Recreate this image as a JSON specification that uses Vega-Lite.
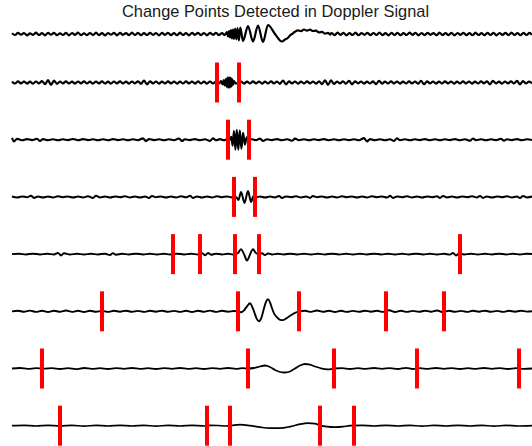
{
"$schema":"https://vega.github.io/schema/vega-lite/v6.json",
"padding":{"left":7,"right":0,"top":4,"bottom":0},
"bounds":"flush",
"spacing":8.5,
"title":{"text":"Change Points Detected in Doppler Signal","fontSize":16.4,"font":"Liberation Sans","fontWeight":"normal","color":"#1a1a1a","offset":-6.5,"anchor":"middle","dx":3.5},
"data":{"values":[
{"r":1,"x":12,"y":0.8},{"r":1,"x":15,"y":-1.0},{"r":1,"x":18,"y":1.2},{"r":1,"x":21,"y":-0.7},{"r":1,"x":24,"y":1.0},{"r":1,"x":27,"y":-1.3},{"r":1,"x":30,"y":0.6},{"r":1,"x":33,"y":-0.9},{"r":1,"x":36,"y":1.3},{"r":1,"x":39,"y":-1.0},{"r":1,"x":42,"y":0.8},{"r":1,"x":45,"y":-1.4},{"r":1,"x":48,"y":1.1},{"r":1,"x":51,"y":-0.7},{"r":1,"x":54,"y":1.2},{"r":1,"x":57,"y":-1.2},{"r":1,"x":60,"y":0.7},{"r":1,"x":63,"y":-1.0},{"r":1,"x":66,"y":1.1},{"r":1,"x":69,"y":-1.3},{"r":1,"x":72,"y":1.0},{"r":1,"x":75,"y":-0.8},{"r":1,"x":78,"y":1.4},{"r":1,"x":81,"y":-1.1},{"r":1,"x":84,"y":0.7},{"r":1,"x":87,"y":-1.2},{"r":1,"x":90,"y":1.0},{"r":1,"x":93,"y":-1.0},{"r":1,"x":96,"y":1.3},{"r":1,"x":99,"y":-1.1},{"r":1,"x":102,"y":0.8},{"r":1,"x":105,"y":-1.4},{"r":1,"x":108,"y":1.0},{"r":1,"x":111,"y":-0.7},{"r":1,"x":114,"y":1.2},{"r":1,"x":117,"y":-1.3},{"r":1,"x":120,"y":1.1},{"r":1,"x":123,"y":-0.8},{"r":1,"x":126,"y":0.9},{"r":1,"x":129,"y":-1.1},{"r":1,"x":132,"y":1.3},{"r":1,"x":135,"y":-1.0},{"r":1,"x":138,"y":1.1},{"r":1,"x":141,"y":-1.2},{"r":1,"x":144,"y":0.8},{"r":1,"x":147,"y":-1.0},{"r":1,"x":150,"y":1.2},{"r":1,"x":153,"y":-0.9},{"r":1,"x":156,"y":1.0},{"r":1,"x":159,"y":-1.3},{"r":1,"x":162,"y":1.1},{"r":1,"x":165,"y":-0.8},{"r":1,"x":168,"y":1.2},{"r":1,"x":171,"y":-1.1},{"r":1,"x":174,"y":0.9},{"r":1,"x":177,"y":-1.2},{"r":1,"x":180,"y":1.3},{"r":1,"x":183,"y":-1.0},{"r":1,"x":186,"y":0.8},{"r":1,"x":189,"y":-1.3},{"r":1,"x":192,"y":1.1},{"r":1,"x":195,"y":-0.9},{"r":1,"x":198,"y":1.2},{"r":1,"x":201,"y":-1.1},{"r":1,"x":204,"y":1.0},{"r":1,"x":207,"y":-1.3},{"r":1,"x":210,"y":1.2},{"r":1,"x":213,"y":-0.9},{"r":1,"x":216,"y":1.1},{"r":1,"x":219,"y":-1.2},{"r":1,"x":222,"y":1.0},{"r":1,"x":224.5,"y":-1.1},
{"r":1,"x":226,"y":0.5},{"r":1,"x":227,"y":2},{"r":1,"x":228,"y":-2.5},{"r":1,"x":229,"y":3},{"r":1,"x":230,"y":-3.5},{"r":1,"x":231,"y":4},{"r":1,"x":232,"y":-4.5},{"r":1,"x":233,"y":4.5},{"r":1,"x":234,"y":-5},{"r":1,"x":235.2,"y":5.5},{"r":1,"x":236.4,"y":-5.5},{"r":1,"x":237.6,"y":6},{"r":1,"x":238.9,"y":-6.5},{"r":1,"x":240.3,"y":6.5},{"r":1,"x":243,"y":-7},{"r":1,"x":248,"y":8},{"r":1,"x":253,"y":-7.5},{"r":1,"x":258,"y":8.5},{"r":1,"x":263,"y":-8},{"r":1,"x":268,"y":9},{"r":1,"x":275,"y":0},{"r":1,"x":282,"y":-7.5},{"r":1,"x":285,"y":-5.5},{"r":1,"x":288,"y":-3.8},{"r":1,"x":290,"y":-1.5},{"r":1,"x":292,"y":0},{"r":1,"x":295,"y":2.2},{"r":1,"x":298,"y":3.6},{"r":1,"x":301,"y":2.8},{"r":1,"x":304,"y":4.5},{"r":1,"x":307,"y":3.3},{"r":1,"x":310,"y":4.4},{"r":1,"x":313,"y":3.0},{"r":1,"x":316,"y":3.3},{"r":1,"x":319,"y":1.6},{"r":1,"x":322,"y":2.2},{"r":1,"x":325,"y":0.4},{"r":1,"x":328,"y":1.2},{"r":1,"x":330,"y":-0.6},
{"r":1,"x":331.5,"y":1.0},{"r":1,"x":334.5,"y":-1.2},{"r":1,"x":337.5,"y":1.3},{"r":1,"x":340.5,"y":-0.8},{"r":1,"x":343.5,"y":1.1},{"r":1,"x":346.5,"y":-1.3},{"r":1,"x":349.5,"y":0.8},{"r":1,"x":352.5,"y":-1.0},{"r":1,"x":355.5,"y":1.3},{"r":1,"x":358.5,"y":-1.2},{"r":1,"x":361.5,"y":0.9},{"r":1,"x":364.5,"y":-0.8},{"r":1,"x":367.5,"y":1.2},{"r":1,"x":370.5,"y":-1.2},{"r":1,"x":373.5,"y":1.0},{"r":1,"x":376.5,"y":-0.9},{"r":1,"x":379.5,"y":1.4},{"r":1,"x":382.5,"y":-1.1},{"r":1,"x":385.5,"y":0.8},{"r":1,"x":388.5,"y":-1.3},{"r":1,"x":391.5,"y":1.1},{"r":1,"x":394.5,"y":-1.0},{"r":1,"x":397.5,"y":1.2},{"r":1,"x":400.5,"y":-1.2},{"r":1,"x":403.5,"y":0.8},{"r":1,"x":406.5,"y":-1.0},{"r":1,"x":409.5,"y":1.3},{"r":1,"x":412.5,"y":-0.9},{"r":1,"x":415.5,"y":1.1},{"r":1,"x":418.5,"y":-1.3},{"r":1,"x":421.5,"y":1.0},{"r":1,"x":424.5,"y":-1.1},{"r":1,"x":427.5,"y":1.2},{"r":1,"x":430.5,"y":-0.8},{"r":1,"x":433.5,"y":0.9},{"r":1,"x":436.5,"y":-1.2},{"r":1,"x":439.5,"y":1.3},{"r":1,"x":442.5,"y":-1.0},{"r":1,"x":445.5,"y":0.8},{"r":1,"x":448.5,"y":-1.1},{"r":1,"x":451.5,"y":1.1},{"r":1,"x":454.5,"y":-1.3},{"r":1,"x":457.5,"y":1.0},{"r":1,"x":460.5,"y":-0.8},{"r":1,"x":463.5,"y":1.2},{"r":1,"x":466.5,"y":-1.1},{"r":1,"x":469.5,"y":0.9},{"r":1,"x":472.5,"y":-1.2},{"r":1,"x":475.5,"y":1.3},{"r":1,"x":478.5,"y":-1.0},{"r":1,"x":481.5,"y":0.8},{"r":1,"x":484.5,"y":-1.2},{"r":1,"x":487.5,"y":1.1},{"r":1,"x":490.5,"y":-1.0},{"r":1,"x":493.5,"y":1.2},{"r":1,"x":496.5,"y":-1.3},{"r":1,"x":499.5,"y":1.0},{"r":1,"x":502.5,"y":-0.8},{"r":1,"x":505.5,"y":1.1},{"r":1,"x":508.5,"y":-1.1},{"r":1,"x":511.5,"y":1.3},{"r":1,"x":514.5,"y":-1.0},{"r":1,"x":517.5,"y":0.9},{"r":1,"x":520.5,"y":-1.2},{"r":1,"x":523.5,"y":1.1},{"r":1,"x":526.5,"y":-1.0},{"r":1,"x":529.5,"y":1.2},{"r":1,"x":532,"y":-0.8},

{"r":2,"x":12,"y":0.9},{"r":2,"x":15,"y":-1.0},{"r":2,"x":18,"y":1.1},{"r":2,"x":21,"y":-0.9},{"r":2,"x":24,"y":1.0},{"r":2,"x":27,"y":-1.1},{"r":2,"x":30,"y":0.9},{"r":2,"x":33,"y":-1.2},{"r":2,"x":36,"y":1.0},{"r":2,"x":39,"y":-0.9},{"r":2,"x":42,"y":1.3},{"r":2,"x":45,"y":-1.6},{"r":2,"x":48,"y":2.3},{"r":2,"x":51,"y":-2.4},{"r":2,"x":54,"y":1.8},{"r":2,"x":57,"y":-1.3},{"r":2,"x":60,"y":1.0},{"r":2,"x":63,"y":-0.9},{"r":2,"x":66,"y":1.1},{"r":2,"x":69,"y":-1.0},{"r":2,"x":72,"y":0.9},{"r":2,"x":75,"y":-1.1},{"r":2,"x":78,"y":1.0},{"r":2,"x":81,"y":-0.8},{"r":2,"x":84,"y":1.1},{"r":2,"x":87,"y":-1.0},{"r":2,"x":90,"y":0.9},{"r":2,"x":93,"y":-1.2},{"r":2,"x":96,"y":1.0},{"r":2,"x":99,"y":-0.9},{"r":2,"x":102,"y":1.1},{"r":2,"x":105,"y":-1.0},{"r":2,"x":108,"y":0.8},{"r":2,"x":111,"y":-1.1},{"r":2,"x":114,"y":1.0},{"r":2,"x":117,"y":-0.9},{"r":2,"x":120,"y":1.1},{"r":2,"x":123,"y":-1.0},{"r":2,"x":126,"y":0.9},{"r":2,"x":129,"y":-1.1},{"r":2,"x":132,"y":1.0},{"r":2,"x":135,"y":-0.9},{"r":2,"x":138,"y":1.2},{"r":2,"x":141,"y":-1.3},{"r":2,"x":144,"y":2.0},{"r":2,"x":147,"y":-1.8},{"r":2,"x":150,"y":1.1},{"r":2,"x":153,"y":-0.9},{"r":2,"x":156,"y":1.0},{"r":2,"x":159,"y":-1.1},{"r":2,"x":162,"y":0.9},{"r":2,"x":165,"y":-1.0},{"r":2,"x":168,"y":1.1},{"r":2,"x":171,"y":-0.9},{"r":2,"x":174,"y":1.0},{"r":2,"x":177,"y":-1.1},{"r":2,"x":180,"y":0.9},{"r":2,"x":183,"y":-1.0},{"r":2,"x":186,"y":1.1},{"r":2,"x":189,"y":-0.9},{"r":2,"x":192,"y":1.0},{"r":2,"x":195,"y":-1.2},{"r":2,"x":198,"y":1.1},{"r":2,"x":201,"y":-1.0},{"r":2,"x":204,"y":0.9},{"r":2,"x":207,"y":-1.1},{"r":2,"x":210,"y":1.0},{"r":2,"x":213,"y":-0.9},{"r":2,"x":216,"y":1.0},
{"r":2,"x":219,"y":-1.0},{"r":2,"x":221,"y":1.3},{"r":2,"x":222.5,"y":-1.8},{"r":2,"x":223.7,"y":2.3},{"r":2,"x":224.8,"y":-3},{"r":2,"x":225.8,"y":3.5},{"r":2,"x":226.7,"y":-4.2},{"r":2,"x":227.5,"y":4.8},{"r":2,"x":228.3,"y":-5.2},{"r":2,"x":229.1,"y":5.2},{"r":2,"x":229.9,"y":-5},{"r":2,"x":230.7,"y":4.6},{"r":2,"x":231.5,"y":-4},{"r":2,"x":232.3,"y":3.2},{"r":2,"x":233.1,"y":-2.2},{"r":2,"x":234,"y":1.4},{"r":2,"x":235.5,"y":-0.8},
{"r":2,"x":238,"y":-0.9},{"r":2,"x":241,"y":1.0},{"r":2,"x":244,"y":-1.1},{"r":2,"x":247,"y":0.9},{"r":2,"x":250,"y":-1.0},{"r":2,"x":253,"y":1.1},{"r":2,"x":256,"y":-0.9},{"r":2,"x":259,"y":1.0},{"r":2,"x":262,"y":-1.1},{"r":2,"x":265,"y":0.9},{"r":2,"x":268,"y":-1.0},{"r":2,"x":271,"y":1.1},{"r":2,"x":274,"y":-0.9},{"r":2,"x":277,"y":1.0},{"r":2,"x":280,"y":-1.3},{"r":2,"x":283,"y":1.9},{"r":2,"x":286,"y":-1.8},{"r":2,"x":289,"y":1.1},{"r":2,"x":292,"y":-0.9},{"r":2,"x":295,"y":1.0},{"r":2,"x":298,"y":-1.1},{"r":2,"x":301,"y":0.9},{"r":2,"x":304,"y":-1.0},{"r":2,"x":307,"y":1.1},{"r":2,"x":310,"y":-0.9},{"r":2,"x":313,"y":1.0},{"r":2,"x":316,"y":-1.1},{"r":2,"x":319,"y":1.2},{"r":2,"x":322,"y":-1.6},{"r":2,"x":325,"y":2.2},{"r":2,"x":328,"y":-2.3},{"r":2,"x":331,"y":2.1},{"r":2,"x":334,"y":-1.5},{"r":2,"x":337,"y":1.0},{"r":2,"x":340,"y":-0.9},{"r":2,"x":343,"y":1.1},{"r":2,"x":346,"y":-1.2},{"r":2,"x":349,"y":1.7},{"r":2,"x":352,"y":-1.8},{"r":2,"x":355,"y":1.2},{"r":2,"x":358,"y":-0.9},{"r":2,"x":361,"y":1.0},{"r":2,"x":364,"y":-1.1},{"r":2,"x":367,"y":0.9},{"r":2,"x":370,"y":-1.0},{"r":2,"x":373,"y":1.1},{"r":2,"x":376,"y":-1.6},{"r":2,"x":379,"y":1.7},{"r":2,"x":382,"y":-1.1},{"r":2,"x":385,"y":0.9},{"r":2,"x":388,"y":-1.0},{"r":2,"x":391,"y":1.1},{"r":2,"x":394,"y":-0.9},{"r":2,"x":397,"y":1.0},{"r":2,"x":400,"y":-1.1},{"r":2,"x":403,"y":0.9},{"r":2,"x":406,"y":-1.0},{"r":2,"x":409,"y":1.1},{"r":2,"x":412,"y":-0.9},{"r":2,"x":415,"y":1.0},{"r":2,"x":418,"y":-1.2},{"r":2,"x":421,"y":1.6},{"r":2,"x":424,"y":-1.7},{"r":2,"x":427,"y":1.1},{"r":2,"x":430,"y":-0.9},{"r":2,"x":433,"y":1.0},{"r":2,"x":436,"y":-1.1},{"r":2,"x":439,"y":0.9},{"r":2,"x":442,"y":-1.0},{"r":2,"x":445,"y":1.1},{"r":2,"x":448,"y":-0.9},{"r":2,"x":451,"y":1.0},{"r":2,"x":454,"y":-1.1},{"r":2,"x":457,"y":0.9},{"r":2,"x":460,"y":-1.0},{"r":2,"x":463,"y":1.1},{"r":2,"x":466,"y":-0.9},{"r":2,"x":469,"y":1.0},{"r":2,"x":472,"y":-1.1},{"r":2,"x":475,"y":0.9},{"r":2,"x":478,"y":-1.0},{"r":2,"x":481,"y":1.1},{"r":2,"x":484,"y":-0.9},{"r":2,"x":487,"y":1.2},{"r":2,"x":490,"y":-1.8},{"r":2,"x":493,"y":1.7},{"r":2,"x":496,"y":-1.0},{"r":2,"x":499,"y":0.9},{"r":2,"x":502,"y":-1.1},{"r":2,"x":505,"y":1.0},{"r":2,"x":508,"y":-0.9},{"r":2,"x":511,"y":1.1},{"r":2,"x":514,"y":-1.0},{"r":2,"x":517,"y":1.6},{"r":2,"x":520,"y":-1.8},{"r":2,"x":523,"y":1.5},{"r":2,"x":526,"y":-1.0},{"r":2,"x":529,"y":0.9},{"r":2,"x":532,"y":-0.8},

{"r":3,"x":12,"y":1.8},{"r":3,"x":14,"y":-1.8},{"r":3,"x":17,"y":0.8},{"r":3,"x":22,"y":-0.5},{"r":3,"x":27,"y":0.6},{"r":3,"x":32,"y":-0.4},{"r":3,"x":37,"y":1.0},{"r":3,"x":40,"y":-1.3},{"r":3,"x":43,"y":0.6},{"r":3,"x":48,"y":-0.5},{"r":3,"x":53,"y":0.4},{"r":3,"x":58,"y":-0.6},{"r":3,"x":63,"y":0.5},{"r":3,"x":68,"y":-0.4},{"r":3,"x":73,"y":0.7},{"r":3,"x":78,"y":-0.5},{"r":3,"x":83,"y":0.6},{"r":3,"x":88,"y":-0.4},{"r":3,"x":93,"y":0.5},{"r":3,"x":98,"y":-0.6},{"r":3,"x":103,"y":0.4},{"r":3,"x":108,"y":-0.5},{"r":3,"x":113,"y":0.6},{"r":3,"x":118,"y":-0.4},{"r":3,"x":123,"y":0.5},{"r":3,"x":128,"y":-0.6},{"r":3,"x":133,"y":0.4},{"r":3,"x":138,"y":-0.5},{"r":3,"x":143,"y":1.3},{"r":3,"x":146,"y":-1.4},{"r":3,"x":149,"y":0.6},{"r":3,"x":154,"y":-0.4},{"r":3,"x":159,"y":0.5},{"r":3,"x":164,"y":-0.6},{"r":3,"x":169,"y":0.4},{"r":3,"x":174,"y":-0.5},{"r":3,"x":179,"y":1.2},{"r":3,"x":182,"y":-1.3},{"r":3,"x":185,"y":0.5},{"r":3,"x":190,"y":-0.4},{"r":3,"x":195,"y":0.6},{"r":3,"x":200,"y":-0.5},{"r":3,"x":205,"y":0.4},{"r":3,"x":210,"y":-1.2},{"r":3,"x":213,"y":1.3},{"r":3,"x":216,"y":-0.5},{"r":3,"x":220,"y":0.6},{"r":3,"x":224,"y":-0.5},{"r":3,"x":227,"y":0.4},
{"r":3,"x":230,"y":0},{"r":3,"x":231.3,"y":3},{"r":3,"x":232.6,"y":-6},{"r":3,"x":234,"y":9},{"r":3,"x":235.4,"y":-10},{"r":3,"x":236.8,"y":10},{"r":3,"x":238.3,"y":-10},{"r":3,"x":239.8,"y":9.5},{"r":3,"x":241.4,"y":-9},{"r":3,"x":243.1,"y":7},{"r":3,"x":244.9,"y":-5},{"r":3,"x":246.7,"y":2.5},{"r":3,"x":248.5,"y":0},
{"r":3,"x":252,"y":0.5},{"r":3,"x":256,"y":-0.4},{"r":3,"x":260,"y":1.1},{"r":3,"x":263,"y":-1.2},{"r":3,"x":267,"y":0.5},{"r":3,"x":272,"y":-0.4},{"r":3,"x":277,"y":0.6},{"r":3,"x":282,"y":-0.5},{"r":3,"x":287,"y":0.4},{"r":3,"x":292,"y":-1.0},{"r":3,"x":295,"y":1.1},{"r":3,"x":299,"y":-0.5},{"r":3,"x":304,"y":0.4},{"r":3,"x":309,"y":-0.6},{"r":3,"x":314,"y":0.5},{"r":3,"x":319,"y":-0.4},{"r":3,"x":324,"y":0.6},{"r":3,"x":329,"y":-0.5},{"r":3,"x":334,"y":0.4},{"r":3,"x":339,"y":-0.6},{"r":3,"x":344,"y":0.5},{"r":3,"x":349,"y":-0.4},{"r":3,"x":354,"y":0.5},{"r":3,"x":359,"y":-0.6},{"r":3,"x":364,"y":1.6},{"r":3,"x":367,"y":-1.7},{"r":3,"x":370,"y":0.6},{"r":3,"x":375,"y":-0.5},{"r":3,"x":380,"y":0.4},{"r":3,"x":385,"y":-0.6},{"r":3,"x":390,"y":0.5},{"r":3,"x":394,"y":-1.2},{"r":3,"x":397,"y":1.3},{"r":3,"x":400,"y":-0.5},{"r":3,"x":405,"y":0.4},{"r":3,"x":410,"y":-0.6},{"r":3,"x":415,"y":0.5},{"r":3,"x":420,"y":-0.4},{"r":3,"x":425,"y":0.6},{"r":3,"x":430,"y":-0.5},{"r":3,"x":435,"y":0.4},{"r":3,"x":440,"y":-0.6},{"r":3,"x":445,"y":0.5},{"r":3,"x":450,"y":-0.4},{"r":3,"x":455,"y":0.6},{"r":3,"x":460,"y":-0.5},{"r":3,"x":465,"y":0.4},{"r":3,"x":470,"y":-1.1},{"r":3,"x":473,"y":1.2},{"r":3,"x":476,"y":-0.5},{"r":3,"x":481,"y":0.4},{"r":3,"x":486,"y":-0.6},{"r":3,"x":491,"y":0.5},{"r":3,"x":496,"y":-0.4},{"r":3,"x":501,"y":0.9},{"r":3,"x":504,"y":-1.0},{"r":3,"x":507,"y":0.5},{"r":3,"x":512,"y":-0.4},{"r":3,"x":517,"y":0.6},{"r":3,"x":522,"y":-0.5},{"r":3,"x":527,"y":0.4},{"r":3,"x":532,"y":-0.3},

{"r":4,"x":12,"y":0.4},{"r":4,"x":17,"y":-0.6},{"r":4,"x":22,"y":0.5},{"r":4,"x":27,"y":-0.4},{"r":4,"x":31,"y":1.2},{"r":4,"x":34,"y":-1.0},{"r":4,"x":38,"y":0.5},{"r":4,"x":43,"y":-0.6},{"r":4,"x":48,"y":0.4},{"r":4,"x":53,"y":-0.5},{"r":4,"x":58,"y":0.6},{"r":4,"x":63,"y":-0.4},{"r":4,"x":68,"y":0.5},{"r":4,"x":73,"y":-0.6},{"r":4,"x":78,"y":0.4},{"r":4,"x":83,"y":-0.5},{"r":4,"x":88,"y":0.6},{"r":4,"x":93,"y":-1.0},{"r":4,"x":96,"y":1.1},{"r":4,"x":100,"y":-0.5},{"r":4,"x":105,"y":0.4},{"r":4,"x":110,"y":-0.6},{"r":4,"x":115,"y":0.5},{"r":4,"x":120,"y":-0.4},{"r":4,"x":125,"y":0.6},{"r":4,"x":130,"y":-0.5},{"r":4,"x":135,"y":0.4},{"r":4,"x":140,"y":-0.6},{"r":4,"x":145,"y":0.5},{"r":4,"x":149,"y":-1.1},{"r":4,"x":152,"y":1.0},{"r":4,"x":156,"y":-0.4},{"r":4,"x":161,"y":0.5},{"r":4,"x":166,"y":-0.6},{"r":4,"x":171,"y":0.4},{"r":4,"x":176,"y":-0.5},{"r":4,"x":181,"y":0.6},{"r":4,"x":186,"y":-0.4},{"r":4,"x":190,"y":1.1},{"r":4,"x":193,"y":-1.0},{"r":4,"x":197,"y":0.5},{"r":4,"x":202,"y":-0.6},{"r":4,"x":207,"y":0.4},{"r":4,"x":212,"y":-0.5},{"r":4,"x":217,"y":0.6},{"r":4,"x":222,"y":-0.4},{"r":4,"x":227,"y":0.5},{"r":4,"x":232,"y":-0.5},{"r":4,"x":236,"y":0},
{"r":4,"x":238.5,"y":-3},{"r":4,"x":241,"y":5},{"r":4,"x":244.5,"y":-6},{"r":4,"x":248,"y":6},{"r":4,"x":251,"y":-5},{"r":4,"x":253.5,"y":1},{"r":4,"x":256,"y":-0.4},
{"r":4,"x":260,"y":0.5},{"r":4,"x":265,"y":-0.6},{"r":4,"x":270,"y":0.4},{"r":4,"x":275,"y":-0.5},{"r":4,"x":279,"y":1.0},{"r":4,"x":282,"y":-1.1},{"r":4,"x":286,"y":0.5},{"r":4,"x":291,"y":-0.4},{"r":4,"x":296,"y":0.6},{"r":4,"x":301,"y":-0.5},{"r":4,"x":306,"y":0.4},{"r":4,"x":310,"y":-1.0},{"r":4,"x":313,"y":1.0},{"r":4,"x":317,"y":-0.4},{"r":4,"x":322,"y":0.5},{"r":4,"x":327,"y":-0.6},{"r":4,"x":332,"y":0.4},{"r":4,"x":337,"y":-0.5},{"r":4,"x":342,"y":0.6},{"r":4,"x":347,"y":-0.4},{"r":4,"x":352,"y":0.5},{"r":4,"x":357,"y":-0.6},{"r":4,"x":362,"y":0.4},{"r":4,"x":367,"y":-0.5},{"r":4,"x":372,"y":0.6},{"r":4,"x":377,"y":-0.4},{"r":4,"x":382,"y":0.5},{"r":4,"x":387,"y":-0.6},{"r":4,"x":390,"y":1.1},{"r":4,"x":393,"y":-1.0},{"r":4,"x":397,"y":0.5},{"r":4,"x":402,"y":-0.4},{"r":4,"x":407,"y":0.6},{"r":4,"x":412,"y":-0.5},{"r":4,"x":417,"y":0.4},{"r":4,"x":422,"y":-0.6},{"r":4,"x":427,"y":0.5},{"r":4,"x":432,"y":-0.4},{"r":4,"x":437,"y":0.6},{"r":4,"x":440,"y":-1.0},{"r":4,"x":443,"y":1.0},{"r":4,"x":447,"y":-0.5},{"r":4,"x":452,"y":0.4},{"r":4,"x":457,"y":-0.6},{"r":4,"x":462,"y":0.5},{"r":4,"x":467,"y":-0.4},{"r":4,"x":472,"y":0.6},{"r":4,"x":477,"y":-0.5},{"r":4,"x":480,"y":1.0},{"r":4,"x":483,"y":-1.0},{"r":4,"x":487,"y":0.4},{"r":4,"x":492,"y":-0.6},{"r":4,"x":497,"y":0.5},{"r":4,"x":502,"y":-0.4},{"r":4,"x":507,"y":0.6},{"r":4,"x":512,"y":-0.5},{"r":4,"x":517,"y":0.4},{"r":4,"x":520,"y":-1.1},{"r":4,"x":523,"y":1.0},{"r":4,"x":527,"y":-0.5},{"r":4,"x":532,"y":0.3},

{"r":5,"x":12,"y":0},{"r":5,"x":19,"y":0.3},{"r":5,"x":26,"y":-0.3},{"r":5,"x":33,"y":0.4},{"r":5,"x":40,"y":-0.3},{"r":5,"x":47,"y":0.3},{"r":5,"x":54,"y":-0.4},{"r":5,"x":58,"y":1.2},{"r":5,"x":61,"y":-1.3},{"r":5,"x":64,"y":0.8},{"r":5,"x":70,"y":-0.3},{"r":5,"x":77,"y":0.3},{"r":5,"x":84,"y":-0.4},{"r":5,"x":91,"y":0.3},{"r":5,"x":98,"y":-0.3},{"r":5,"x":105,"y":0.4},{"r":5,"x":110,"y":-0.9},{"r":5,"x":113,"y":1.0},{"r":5,"x":116,"y":-0.6},{"r":5,"x":122,"y":0.3},{"r":5,"x":129,"y":-0.3},{"r":5,"x":136,"y":0.4},{"r":5,"x":143,"y":-0.3},{"r":5,"x":150,"y":0.3},{"r":5,"x":157,"y":-0.4},{"r":5,"x":164,"y":0.3},{"r":5,"x":170,"y":-0.3},{"r":5,"x":177,"y":0.4},{"r":5,"x":184,"y":-0.3},{"r":5,"x":191,"y":0.3},{"r":5,"x":198,"y":-0.4},{"r":5,"x":202,"y":1.0},{"r":5,"x":205,"y":-1.2},{"r":5,"x":208,"y":1.2},{"r":5,"x":211,"y":-0.6},{"r":5,"x":216,"y":0.4},{"r":5,"x":222,"y":-0.3},{"r":5,"x":228,"y":0.3},{"r":5,"x":233,"y":-0.4},
{"r":5,"x":236,"y":0},{"r":5,"x":238,"y":1},{"r":5,"x":241,"y":5},{"r":5,"x":244,"y":0},{"r":5,"x":247,"y":-6.5},{"r":5,"x":250,"y":-0.5},{"r":5,"x":253,"y":5},{"r":5,"x":255.5,"y":1.5},{"r":5,"x":258,"y":0},
{"r":5,"x":262,"y":0.8},{"r":5,"x":265,"y":-0.9},{"r":5,"x":268,"y":0.7},{"r":5,"x":272,"y":-0.4},{"r":5,"x":278,"y":0.3},{"r":5,"x":284,"y":-0.3},{"r":5,"x":290,"y":0.4},{"r":5,"x":297,"y":-0.3},{"r":5,"x":304,"y":0.3},{"r":5,"x":311,"y":-0.4},{"r":5,"x":318,"y":0.3},{"r":5,"x":325,"y":-0.3},{"r":5,"x":332,"y":0.4},{"r":5,"x":339,"y":-0.3},{"r":5,"x":346,"y":0.3},{"r":5,"x":353,"y":-0.4},{"r":5,"x":360,"y":0.3},{"r":5,"x":367,"y":-0.3},{"r":5,"x":374,"y":0.4},{"r":5,"x":381,"y":-0.3},{"r":5,"x":388,"y":0.3},{"r":5,"x":395,"y":-0.4},{"r":5,"x":402,"y":0.3},{"r":5,"x":409,"y":-0.3},{"r":5,"x":416,"y":0.4},{"r":5,"x":423,"y":-0.3},{"r":5,"x":430,"y":0.3},{"r":5,"x":437,"y":-0.4},{"r":5,"x":444,"y":0.3},{"r":5,"x":450,"y":-0.5},{"r":5,"x":453,"y":1.2},{"r":5,"x":456,"y":-1.3},{"r":5,"x":459,"y":0.6},{"r":5,"x":464,"y":-0.3},{"r":5,"x":471,"y":0.3},{"r":5,"x":478,"y":-0.4},{"r":5,"x":485,"y":0.3},{"r":5,"x":492,"y":-0.3},{"r":5,"x":499,"y":0.4},{"r":5,"x":506,"y":-0.3},{"r":5,"x":513,"y":0.3},{"r":5,"x":520,"y":-0.4},{"r":5,"x":526,"y":0.3},{"r":5,"x":532,"y":0},

{"r":6,"x":12,"y":0},{"r":6,"x":18,"y":0.6},{"r":6,"x":24,"y":-0.5},{"r":6,"x":30,"y":0.7},{"r":6,"x":36,"y":-0.6},{"r":6,"x":42,"y":0.5},{"r":6,"x":48,"y":-0.7},{"r":6,"x":54,"y":0.6},{"r":6,"x":60,"y":-0.5},{"r":6,"x":66,"y":0.8},{"r":6,"x":72,"y":-0.6},{"r":6,"x":78,"y":0.5},{"r":6,"x":84,"y":-0.7},{"r":6,"x":90,"y":0.6},{"r":6,"x":96,"y":-0.5},{"r":6,"x":102,"y":0.4},{"r":6,"x":108,"y":-0.6},{"r":6,"x":114,"y":0.5},{"r":6,"x":120,"y":-0.4},{"r":6,"x":126,"y":0.6},{"r":6,"x":132,"y":-0.5},{"r":6,"x":138,"y":0.4},{"r":6,"x":144,"y":-0.6},{"r":6,"x":150,"y":0.5},{"r":6,"x":156,"y":-0.4},{"r":6,"x":162,"y":0.6},{"r":6,"x":168,"y":-0.5},{"r":6,"x":174,"y":0.4},{"r":6,"x":180,"y":-0.6},{"r":6,"x":186,"y":0.5},{"r":6,"x":192,"y":-0.7},{"r":6,"x":198,"y":0.6},{"r":6,"x":204,"y":-0.5},{"r":6,"x":210,"y":0.7},{"r":6,"x":216,"y":-0.6},{"r":6,"x":222,"y":0.5},{"r":6,"x":228,"y":-0.4},{"r":6,"x":234,"y":0.3},{"r":6,"x":238,"y":0},
{"r":6,"x":241,"y":-1},{"r":6,"x":244,"y":1},{"r":6,"x":247,"y":5},{"r":6,"x":250,"y":8},{"r":6,"x":252,"y":5},{"r":6,"x":254,"y":0},{"r":6,"x":256.5,"y":-7},{"r":6,"x":259,"y":-10},{"r":6,"x":261.5,"y":-6},{"r":6,"x":264,"y":3},{"r":6,"x":266,"y":9.5},{"r":6,"x":268,"y":12},{"r":6,"x":270,"y":9},{"r":6,"x":272,"y":3},{"r":6,"x":274,"y":-2},{"r":6,"x":277,"y":-6},{"r":6,"x":280,"y":-8.5},{"r":6,"x":283,"y":-8.8},{"r":6,"x":288,"y":-6},{"r":6,"x":294,"y":-2},{"r":6,"x":299,"y":0},
{"r":6,"x":305,"y":0.5},{"r":6,"x":311,"y":-0.6},{"r":6,"x":317,"y":0.8},{"r":6,"x":323,"y":-0.5},{"r":6,"x":329,"y":0.6},{"r":6,"x":335,"y":-0.7},{"r":6,"x":341,"y":0.5},{"r":6,"x":347,"y":-0.6},{"r":6,"x":353,"y":0.4},{"r":6,"x":359,"y":-0.5},{"r":6,"x":365,"y":0.6},{"r":6,"x":371,"y":-0.4},{"r":6,"x":377,"y":0.5},{"r":6,"x":383,"y":-0.6},{"r":6,"x":389,"y":1.0},{"r":6,"x":395,"y":-0.7},{"r":6,"x":401,"y":0.5},{"r":6,"x":407,"y":-0.6},{"r":6,"x":413,"y":0.4},{"r":6,"x":419,"y":-0.5},{"r":6,"x":425,"y":0.6},{"r":6,"x":431,"y":-0.4},{"r":6,"x":437,"y":0.8},{"r":6,"x":443,"y":-0.9},{"r":6,"x":449,"y":0.6},{"r":6,"x":455,"y":-0.5},{"r":6,"x":461,"y":0.4},{"r":6,"x":467,"y":-0.6},{"r":6,"x":473,"y":0.5},{"r":6,"x":479,"y":-0.4},{"r":6,"x":485,"y":0.6},{"r":6,"x":491,"y":-0.5},{"r":6,"x":497,"y":0.4},{"r":6,"x":503,"y":-0.6},{"r":6,"x":509,"y":0.5},{"r":6,"x":515,"y":-0.4},{"r":6,"x":521,"y":0.5},{"r":6,"x":527,"y":-0.3},{"r":6,"x":532,"y":0},

{"r":7,"x":12,"y":0},{"r":7,"x":20,"y":0.5},{"r":7,"x":28,"y":-0.4},{"r":7,"x":36,"y":0.3},{"r":7,"x":44,"y":-0.2},{"r":7,"x":52,"y":0.4},{"r":7,"x":60,"y":-0.5},{"r":7,"x":68,"y":0.3},{"r":7,"x":76,"y":-0.6},{"r":7,"x":84,"y":0.5},{"r":7,"x":92,"y":-0.4},{"r":7,"x":100,"y":0.3},{"r":7,"x":108,"y":-0.5},{"r":7,"x":116,"y":0.4},{"r":7,"x":124,"y":-0.3},{"r":7,"x":132,"y":0.5},{"r":7,"x":140,"y":-0.4},{"r":7,"x":148,"y":0.3},{"r":7,"x":156,"y":-0.5},{"r":7,"x":164,"y":0.4},{"r":7,"x":172,"y":-0.3},{"r":7,"x":180,"y":0.5},{"r":7,"x":188,"y":-0.4},{"r":7,"x":196,"y":0.3},{"r":7,"x":204,"y":-0.5},{"r":7,"x":212,"y":0.4},{"r":7,"x":220,"y":-0.3},{"r":7,"x":228,"y":0.5},{"r":7,"x":236,"y":-0.4},{"r":7,"x":242,"y":0.3},{"r":7,"x":248,"y":0},
{"r":7,"x":254,"y":0.5},{"r":7,"x":260,"y":2},{"r":7,"x":265,"y":3},{"r":7,"x":270,"y":1.5},{"r":7,"x":275,"y":-1.5},{"r":7,"x":280,"y":-3.5},{"r":7,"x":285,"y":-4},{"r":7,"x":290,"y":-3},{"r":7,"x":295,"y":0},{"r":7,"x":300,"y":3},{"r":7,"x":305,"y":4.5},{"r":7,"x":310,"y":3.8},{"r":7,"x":315,"y":2},{"r":7,"x":320,"y":0.5},{"r":7,"x":325,"y":-0.6},{"r":7,"x":330,"y":-0.8},{"r":7,"x":334,"y":0},
{"r":7,"x":342,"y":0.4},{"r":7,"x":350,"y":-0.5},{"r":7,"x":358,"y":0.3},{"r":7,"x":366,"y":-0.4},{"r":7,"x":374,"y":0.5},{"r":7,"x":382,"y":-0.3},{"r":7,"x":390,"y":0.4},{"r":7,"x":398,"y":-0.5},{"r":7,"x":406,"y":0.6},{"r":7,"x":413,"y":-0.5},{"r":7,"x":420,"y":0.3},{"r":7,"x":428,"y":-0.4},{"r":7,"x":436,"y":0.5},{"r":7,"x":444,"y":-0.3},{"r":7,"x":452,"y":0.4},{"r":7,"x":460,"y":-0.5},{"r":7,"x":468,"y":0.3},{"r":7,"x":476,"y":-0.4},{"r":7,"x":484,"y":0.5},{"r":7,"x":492,"y":-0.3},{"r":7,"x":500,"y":0.4},{"r":7,"x":508,"y":-0.5},{"r":7,"x":516,"y":0.3},{"r":7,"x":524,"y":-0.4},{"r":7,"x":532,"y":0},

{"r":8,"x":12,"y":0},{"r":8,"x":24,"y":0.3},{"r":8,"x":36,"y":-0.3},{"r":8,"x":48,"y":0.4},{"r":8,"x":60,"y":-0.3},{"r":8,"x":72,"y":0.3},{"r":8,"x":84,"y":-0.4},{"r":8,"x":96,"y":0.3},{"r":8,"x":108,"y":-0.3},{"r":8,"x":120,"y":0.4},{"r":8,"x":132,"y":-0.3},{"r":8,"x":144,"y":0.3},{"r":8,"x":156,"y":-0.4},{"r":8,"x":168,"y":0.3},{"r":8,"x":180,"y":-0.3},{"r":8,"x":192,"y":0.4},{"r":8,"x":204,"y":-0.3},{"r":8,"x":210,"y":0.4},{"r":8,"x":218,"y":0.2},{"r":8,"x":226,"y":-0.3},{"r":8,"x":232,"y":0.3},
{"r":8,"x":240,"y":1},{"r":8,"x":250,"y":0},{"r":8,"x":260,"y":-1.5},{"r":8,"x":270,"y":-2.5},{"r":8,"x":280,"y":-2.5},{"r":8,"x":290,"y":-1},{"r":8,"x":300,"y":1.5},{"r":8,"x":308,"y":2.5},{"r":8,"x":315,"y":2},{"r":8,"x":320,"y":0.3},{"r":8,"x":327,"y":-1},{"r":8,"x":335,"y":-1.5},{"r":8,"x":343,"y":-1},{"r":8,"x":350,"y":0},
{"r":8,"x":362,"y":0.3},{"r":8,"x":374,"y":-0.3},{"r":8,"x":386,"y":0.4},{"r":8,"x":398,"y":-0.3},{"r":8,"x":410,"y":0.3},{"r":8,"x":422,"y":-0.4},{"r":8,"x":434,"y":0.3},{"r":8,"x":446,"y":-0.3},{"r":8,"x":458,"y":0.4},{"r":8,"x":470,"y":-0.3},{"r":8,"x":482,"y":0.3},{"r":8,"x":494,"y":-0.4},{"r":8,"x":506,"y":0.3},{"r":8,"x":518,"y":-0.3},{"r":8,"x":532,"y":0},

{"r":2,"c":217},{"r":2,"c":239},
{"r":3,"c":228},{"r":3,"c":249},
{"r":4,"c":234},{"r":4,"c":255},
{"r":5,"c":173},{"r":5,"c":200},{"r":5,"c":235},{"r":5,"c":259},{"r":5,"c":460},
{"r":6,"c":102},{"r":6,"c":238},{"r":6,"c":299},{"r":6,"c":386},{"r":6,"c":444},
{"r":7,"c":42},{"r":7,"c":248},{"r":7,"c":334},{"r":7,"c":417},{"r":7,"c":519},
{"r":8,"c":60},{"r":8,"c":207},{"r":8,"c":230},{"r":8,"c":320},{"r":8,"c":354}
]},
"vconcat":[
{"transform":[{"filter":"datum.r == 1 && isValid(datum.y)"}],
"width":520,"height":40,
"mark":{"type":"line","color":"#000000","interpolate":"monotone","strokeWidth":2.2},
"encoding":{"x":{"field":"x","type":"quantitative","scale":{"domain":[12,532],"nice":false,"zero":false},"axis":null},
"y":{"field":"y","type":"quantitative","scale":{"domain":[-20,20],"nice":false},"axis":null}}},
{"transform":[{"filter":"datum.r > 1"}],
"facet":{"row":{"field":"r","type":"ordinal","header":null}},
"spacing":{"row":17.2},
"bounds":"flush",
"spec":{
"width":520,"height":40,
"layer":[
{"transform":[{"filter":"isValid(datum.y)"}],
"mark":{"type":"line","color":"#000000","interpolate":"monotone"},
"encoding":{"x":{"field":"x","type":"quantitative","scale":{"domain":[12,532],"nice":false,"zero":false},"axis":null},
"y":{"field":"y","type":"quantitative","scale":{"domain":[-20,20],"nice":false},"axis":null},
"strokeWidth":{"field":"r","type":"ordinal","scale":{"domain":[2,3,4,5,6,7,8],"range":[2.2,1.7,1.5,1.4,1.4,1.4,1.4]},"legend":null}}},
{"transform":[{"filter":"isValid(datum.c)"}],
"mark":{"type":"rule","color":"#ff0000","strokeWidth":4},
"encoding":{"x":{"field":"c","type":"quantitative","axis":null}}}
]}}
],
"config":{"view":{"stroke":null}}
}
